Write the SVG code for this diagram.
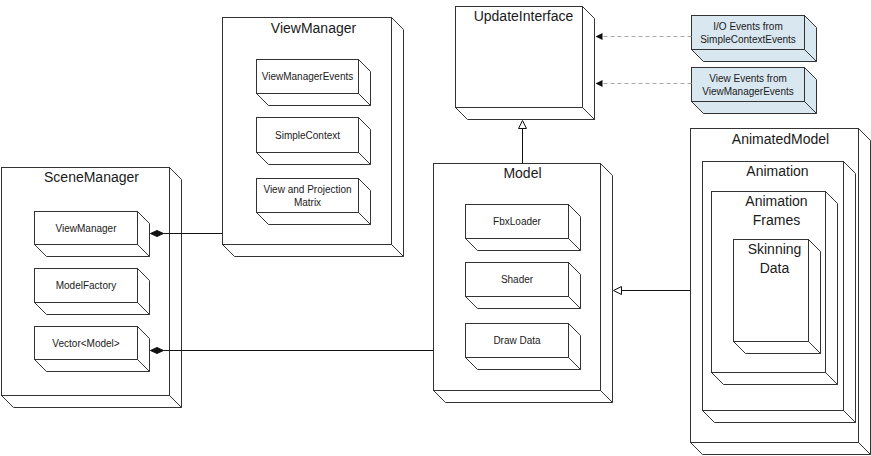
<svg xmlns="http://www.w3.org/2000/svg" width="871" height="456" viewBox="0 0 871 456">
  <style>
    .face { fill: #ffffff; stroke: #333333; stroke-width: 1; }
    .event .face { fill: #d9e7f1; }
    .title { font-family: "Liberation Sans", Arial, sans-serif; font-size: 14px; fill: #1a1a1a; text-anchor: middle; }
    .label { font-family: "Liberation Sans", Arial, sans-serif; font-size: 10px; fill: #1a1a1a; text-anchor: middle; }
    .wire { fill: none; stroke: #111111; stroke-width: 1; }
    .dash { fill: none; stroke: #a6a6a6; stroke-width: 1.2; stroke-dasharray: 4 3; }
    .diamond { fill: #111111; stroke: #111111; stroke-width: 1; }
    .hollow { fill: #ffffff; stroke: #111111; stroke-width: 1; }
    .solid { fill: #111111; stroke: none; }
  </style>
  <rect width="871" height="456" fill="#ffffff"/>

  <g transform="translate(0.5,0.5)">
    <!-- SceneManager -->
    <g id="scene-manager">
      <path class="face" d="M169,167 l12,12 v228 h-168 l-12,-12 M169,395 l12,12"/>
      <rect class="face" x="1" y="167" width="168" height="228"/>
      <text class="title" x="91" y="181">SceneManager</text>
    </g>
    <g id="sm-view-manager">
      <path class="face" d="M137,211 l12,12 v33 h-103 l-12,-12 M137,244 l12,12"/>
      <rect class="face" x="34" y="211" width="103" height="33"/>
      <text class="label" x="85.5" y="231">ViewManager</text>
    </g>
    <g id="sm-model-factory">
      <path class="face" d="M137,268 l12,12 v34 h-103 l-12,-12 M137,302 l12,12"/>
      <rect class="face" x="34" y="268" width="103" height="34"/>
      <text class="label" x="85.5" y="288">ModelFactory</text>
    </g>
    <g id="sm-vector-model">
      <path class="face" d="M137,326 l12,12 v33 h-103 l-12,-12 M137,359 l12,12"/>
      <rect class="face" x="34" y="326" width="103" height="33"/>
      <text class="label" x="85.5" y="346">Vector&lt;Model&gt;</text>
    </g>

    <!-- ViewManager -->
    <g id="view-manager">
      <path class="face" d="M391,17 l12,12 v227 h-169 l-12,-12 M391,244 l12,12"/>
      <rect class="face" x="222" y="17" width="169" height="227"/>
      <text class="title" x="313" y="32">ViewManager</text>
    </g>
    <g id="vm-events">
      <path class="face" d="M358,59 l12,12 v34 h-102 l-12,-12 M358,93 l12,12"/>
      <rect class="face" x="256" y="59" width="102" height="34"/>
      <text class="label" x="307" y="79">ViewManagerEvents</text>
    </g>
    <g id="vm-simple-context">
      <path class="face" d="M358,117 l12,12 v35 h-102 l-12,-12 M358,152 l12,12"/>
      <rect class="face" x="256" y="117" width="102" height="35"/>
      <text class="label" x="307" y="138">SimpleContext</text>
    </g>
    <g id="vm-view-projection">
      <path class="face" d="M358,178 l12,12 v34 h-102 l-12,-12 M358,212 l12,12"/>
      <rect class="face" x="256" y="178" width="102" height="34"/>
      <text class="label" x="307" y="192">View and Projection</text>
      <text class="label" x="307" y="205">Matrix</text>
    </g>

    <!-- UpdateInterface -->
    <g id="update-interface">
      <path class="face" d="M582,6 l12,12 v101 h-127 l-12,-12 M582,107 l12,12"/>
      <rect class="face" x="455" y="6" width="127" height="101"/>
      <text class="title" x="523" y="20">UpdateInterface</text>
    </g>

    <!-- Event sources -->
    <g id="io-events" class="event">
      <path class="face" d="M804,15 l12,12 v34 h-113 l-12,-12 M804,49 l12,12"/>
      <rect class="face" x="691" y="15" width="113" height="34"/>
      <text class="label" x="747.5" y="29">I/O Events from</text>
      <text class="label" x="747.5" y="42">SimpleContextEvents</text>
    </g>
    <g id="view-events" class="event">
      <path class="face" d="M804,67 l12,12 v34 h-113 l-12,-12 M804,101 l12,12"/>
      <rect class="face" x="691" y="67" width="113" height="34"/>
      <text class="label" x="747.5" y="81">View Events from</text>
      <text class="label" x="747.5" y="94">ViewManagerEvents</text>
    </g>

    <!-- Model -->
    <g id="model">
      <path class="face" d="M600,163 l12,12 v227 h-167 l-12,-12 M600,390 l12,12"/>
      <rect class="face" x="433" y="163" width="167" height="227"/>
      <text class="title" x="522" y="177">Model</text>
    </g>
    <g id="model-fbx-loader">
      <path class="face" d="M568,204 l12,12 v34 h-103 l-12,-12 M568,238 l12,12"/>
      <rect class="face" x="465" y="204" width="103" height="34"/>
      <text class="label" x="516.5" y="224">FbxLoader</text>
    </g>
    <g id="model-shader">
      <path class="face" d="M568,262 l12,12 v34 h-103 l-12,-12 M568,296 l12,12"/>
      <rect class="face" x="465" y="262" width="103" height="34"/>
      <text class="label" x="516.5" y="282">Shader</text>
    </g>
    <g id="model-draw-data">
      <path class="face" d="M568,323 l12,12 v34 h-103 l-12,-12 M568,357 l12,12"/>
      <rect class="face" x="465" y="323" width="103" height="34"/>
      <text class="label" x="516.5" y="343">Draw Data</text>
    </g>

    <!-- AnimatedModel with nested parts -->
    <g id="animated-model">
      <path class="face" d="M858,128 l12,12 v314 h-168 l-12,-12 M858,442 l12,12"/>
      <rect class="face" x="690" y="128" width="168" height="314"/>
      <text class="title" x="780" y="143">AnimatedModel</text>
    </g>
    <g id="animation">
      <path class="face" d="M843,161 l12,12 v249 h-141 l-12,-12 M843,410 l12,12"/>
      <rect class="face" x="702" y="161" width="141" height="249"/>
      <text class="title" x="777" y="175">Animation</text>
    </g>
    <g id="animation-frames">
      <path class="face" d="M825,191 l12,12 v181 h-114 l-12,-12 M825,372 l12,12"/>
      <rect class="face" x="711" y="191" width="114" height="181"/>
      <text class="title" x="776" y="205">Animation</text>
      <text class="title" x="776" y="224">Frames</text>
    </g>
    <g id="skinning-data">
      <path class="face" d="M808,239 l12,12 v102 h-75 l-12,-12 M808,341 l12,12"/>
      <rect class="face" x="733" y="239" width="75" height="102"/>
      <text class="title" x="774" y="253">Skinning</text>
      <text class="title" x="774" y="272">Data</text>
    </g>

    <!-- Connectors -->
    <g id="connectors">
      <!-- composition: SceneManager owns ViewManager -->
      <path class="wire" d="M163,233 H222"/>
      <path class="diamond" d="M150,233 l6.5,-3 l6.5,3 l-6.5,3 z"/>
      <!-- composition: Vector<Model> holds Model -->
      <path class="wire" d="M163,350 H433"/>
      <path class="diamond" d="M150,350 l6.5,-3 l6.5,3 l-6.5,3 z"/>
      <!-- Model implements UpdateInterface -->
      <path class="wire" d="M522,163 V128"/>
      <path class="hollow" d="M522,120 l4,8 h-8 z"/>
      <!-- AnimatedModel extends Model -->
      <path class="wire" d="M690,290 H621"/>
      <path class="hollow" d="M613,290 l8,-4 v8 z"/>
      <!-- event feeds into UpdateInterface -->
      <path class="dash" d="M691,36 H601"/>
      <path class="solid" d="M595,36 l7,-3.5 v7 z"/>
      <path class="dash" d="M691,83 H601"/>
      <path class="solid" d="M595,83 l7,-3.5 v7 z"/>
    </g>
  </g>
</svg>
